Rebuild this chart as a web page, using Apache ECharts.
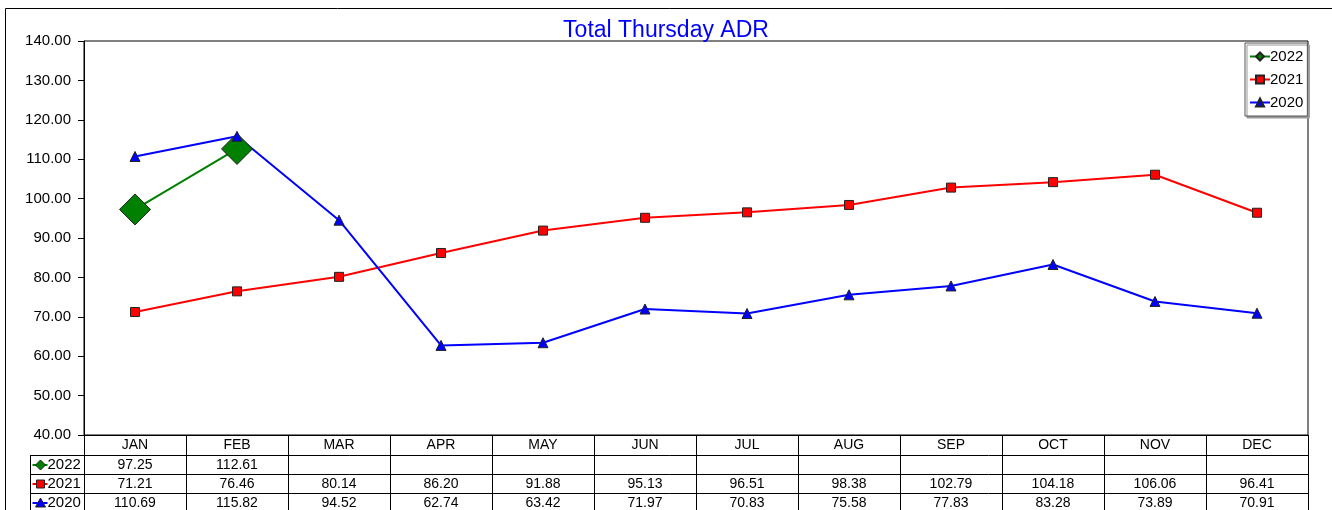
<!DOCTYPE html>
<html>
<head>
<meta charset="utf-8">
<title>Total Thursday ADR</title>
<script src="https://cdn.jsdelivr.net/npm/echarts@6/dist/echarts.min.js"></script>
<style>
  html, body { margin: 0; padding: 0; background: #fff; }
  #chart { width: 1332px; height: 510px; }
</style>
</head>
<body>
<div id="chart"></div>
<script>
// Monthly categories and the Thursday ADR for each year
const months = ['JAN', 'FEB', 'MAR', 'APR', 'MAY', 'JUN', 'JUL', 'AUG', 'SEP', 'OCT', 'NOV', 'DEC'];
const adr2022 = [97.25, 112.61, null, null, null, null, null, null, null, null, null, null];
const adr2021 = [71.21, 76.46, 80.14, 86.20, 91.88, 95.13, 96.51, 98.38, 102.79, 104.18, 106.06, 96.41];
const adr2020 = [110.69, 115.82, 94.52, 62.74, 63.42, 71.97, 70.83, 75.58, 77.83, 83.28, 73.89, 70.91];
const yearNames = ['2022', '2021', '2020'];

const FONT = 'Arial, "Liberation Sans", sans-serif';
const GREEN = '#008000', RED = '#ff0000', BLUE = '#0000ff';

const chart = echarts.init(document.getElementById('chart'), null, { renderer: 'canvas' });

const rows = [
  { name: yearNames[0], data: adr2022, color: GREEN, symbol: 'diamond' },
  { name: yearNames[1], data: adr2021, color: RED, symbol: 'rect' },
  { name: yearNames[2], data: adr2020, color: BLUE, symbol: 'triangle' }
];

chart.setOption({
  animation: false,
  backgroundColor: '#fff',
  title: {
    text: 'Total Thursday ADR',
    left: 'center',
    top: 14,
    textStyle: { color: '#0000ff', fontFamily: FONT, fontSize: 23, fontWeight: 'normal' }
  },
  grid: {
    left: 84, right: 24, top: 41, bottom: 75,
    show: true, borderColor: '#000', borderWidth: 1, backgroundColor: '#fff'
  },
  legend: {
    orient: 'vertical',
    left: 1245, top: 43,
    padding: [6, 4, 6, 4],
    itemGap: 8,
    itemWidth: 20, itemHeight: 10,
    backgroundColor: '#fff',
    borderColor: '#555', borderWidth: 1,
    shadowColor: '#999', shadowOffsetX: 2, shadowOffsetY: 2, shadowBlur: 0,
    textStyle: { fontFamily: FONT, fontSize: 15, color: '#000', padding: [0, 0, 0, -5] },
    data: yearNames
  },
  xAxis: {
    type: 'category',
    data: months,
    boundaryGap: true,
    axisLine: { lineStyle: { color: '#000', width: 1 } },
    axisTick: { show: true, length: 80, interval: 0, lineStyle: { color: '#000', width: 1 } },
    axisLabel: { interval: 0, margin: 3, fontFamily: FONT, fontSize: 14, color: '#000' },
    splitLine: { show: false }
  },
  yAxis: {
    type: 'value',
    min: 40, max: 140, interval: 10,
    axisLine: { show: true, lineStyle: { color: '#000', width: 1 } },
    axisTick: { show: true, length: 6, lineStyle: { color: '#000' } },
    axisLabel: {
      margin: 13, fontFamily: FONT, fontSize: 15, color: '#000',
      formatter: v => v.toFixed(2)
    },
    splitLine: { show: false }
  },
  series: rows.map(r => ({
    name: r.name,
    type: 'line',
    data: r.data,
    symbol: r.symbol,
    symbolSize: r.symbol === 'diamond' ? 31 : (r.symbol === 'rect' ? 9 : 10),
    showSymbol: true,
    connectNulls: false,
    lineStyle: { color: r.color, width: 2 },
    itemStyle: { color: r.color, borderColor: '#222', borderWidth: 1 },
    emphasis: { disabled: true }
  }))
});

// Data table under the plot, laid out on the category axis
function drawTable() {
  const c0 = chart.convertToPixel({ xAxisIndex: 0 }, 0);
  const c1 = chart.convertToPixel({ xAxisIndex: 0 }, 1);
  const band = c1 - c0;
  const left = c0 - band / 2;
  const right = left + band * months.length;
  const base = chart.convertToPixel({ yAxisIndex: 0 }, 40);
  const headH = 20, rowH = 19;
  const keyLeft = 30.5;
  const g = [];

  // outer chart frame
  g.push({ type: 'rect', shape: { x: 5.5, y: 8.5, width: 1400, height: 600 },
           style: { fill: null, stroke: '#000', lineWidth: 1 }, z: 100, silent: true });

  // horizontal row rules
  for (let k = 0; k < rows.length; k++) {
    const y = Math.round(base + headH + k * rowH) + 0.5;
    g.push({ type: 'line', shape: { x1: keyLeft, y1: y, x2: right, y2: y },
             style: { stroke: '#000', lineWidth: 1 }, z: 50, silent: true });
  }
  // key column left edge
  g.push({ type: 'line', shape: { x1: keyLeft, y1: base + headH, x2: keyLeft, y2: 520 },
           style: { stroke: '#000', lineWidth: 1 }, z: 50, silent: true });

  rows.forEach((r, k) => {
    const yMid = base + headH + k * rowH + rowH / 2 + 0.5;
    // key: line + marker + year
    g.push({ type: 'line', shape: { x1: keyLeft + 2, y1: yMid, x2: keyLeft + 17, y2: yMid },
             style: { stroke: r.color, lineWidth: 2 }, z: 60, silent: true });
    const mx = keyLeft + 10;
    if (r.symbol === 'diamond') {
      g.push({ type: 'polygon', shape: { points: [[mx, yMid - 5], [mx + 5, yMid], [mx, yMid + 5], [mx - 5, yMid]] },
               style: { fill: r.color, stroke: '#222', lineWidth: 1 }, z: 61, silent: true });
    } else if (r.symbol === 'rect') {
      g.push({ type: 'rect', shape: { x: mx - 4, y: yMid - 4, width: 8, height: 8 },
               style: { fill: r.color, stroke: '#222', lineWidth: 1 }, z: 61, silent: true });
    } else {
      g.push({ type: 'polygon', shape: { points: [[mx, yMid - 5], [mx + 5, yMid + 4], [mx - 5, yMid + 4]] },
               style: { fill: r.color, stroke: '#222', lineWidth: 1 }, z: 61, silent: true });
    }
    g.push({ type: 'text', style: { text: r.name, x: keyLeft + 17, y: yMid, textAlign: 'left', textVerticalAlign: 'middle',
             font: '15px ' + FONT, fill: '#000' }, z: 60, silent: true });

    // values
    r.data.forEach((v, i) => {
      if (v == null) return;
      const x = chart.convertToPixel({ xAxisIndex: 0 }, i);
      g.push({ type: 'text', style: { text: v.toFixed(2), x: x, y: yMid, textAlign: 'center', textVerticalAlign: 'middle',
               font: '14px ' + FONT, fill: '#000' }, z: 60, silent: true });
    });
  });

  chart.setOption({ graphic: g });
}
drawTable();
</script>
</body>
</html>
